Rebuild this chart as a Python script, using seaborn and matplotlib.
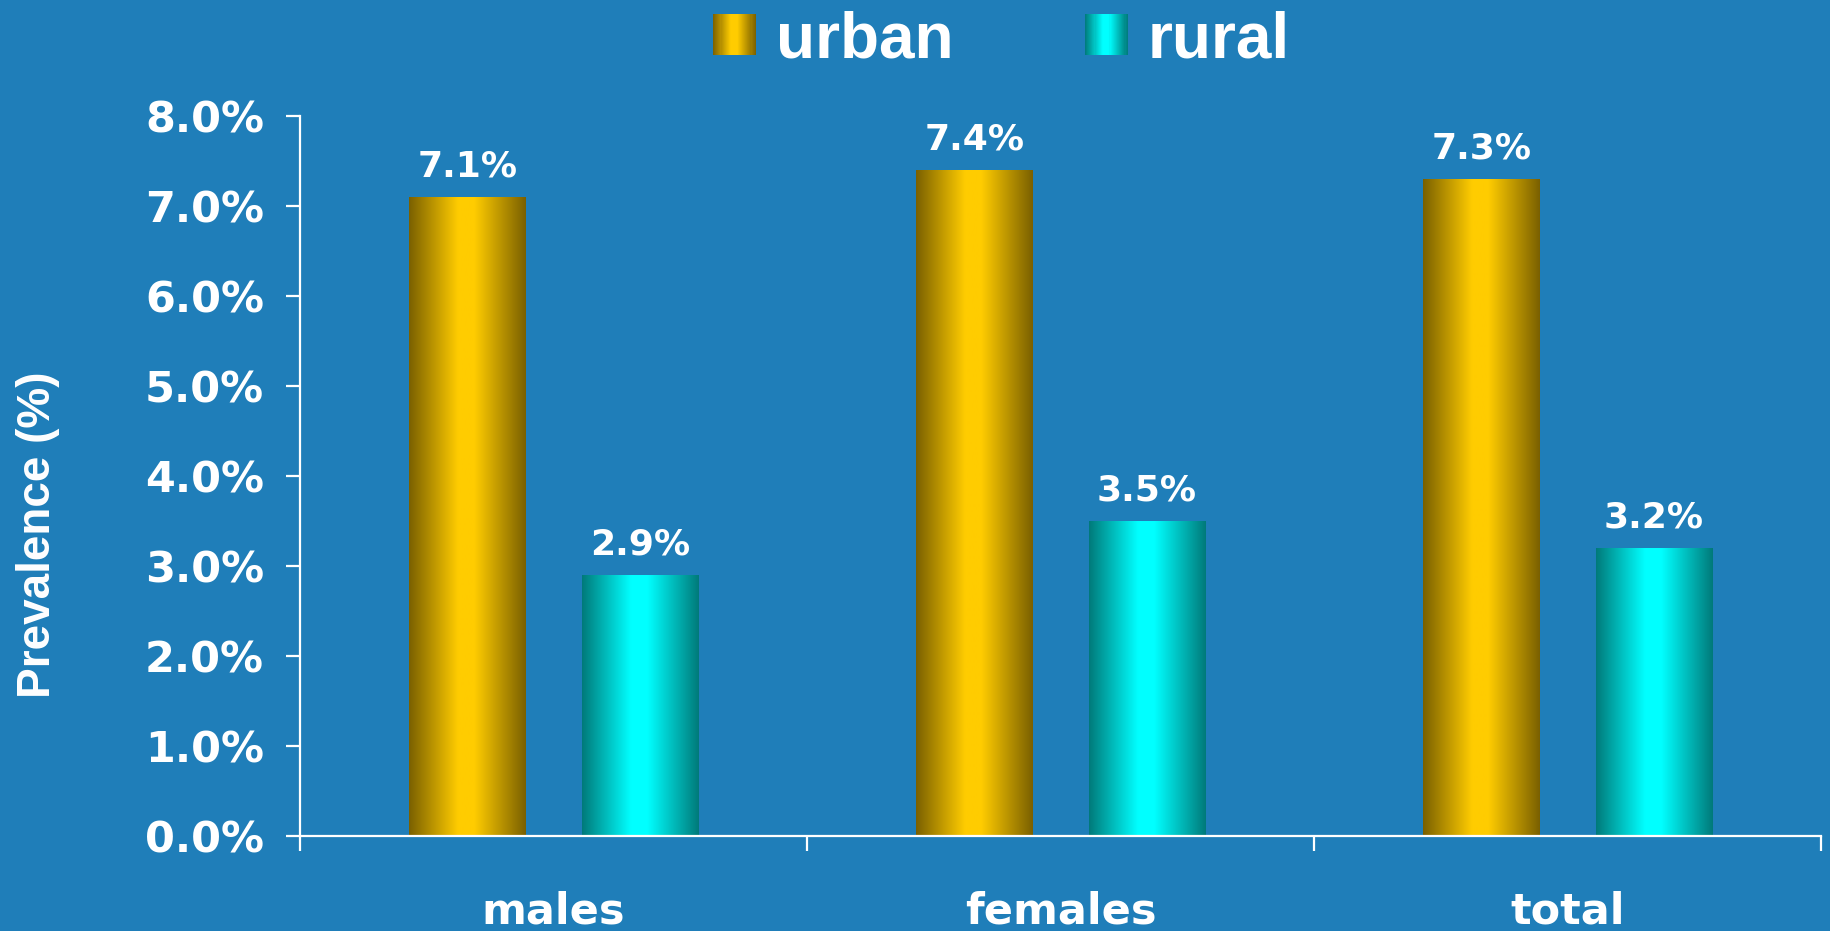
import numpy as np
import pandas as pd
import matplotlib
matplotlib.use("Agg")
import matplotlib.pyplot as plt
import seaborn as sns
from matplotlib.colors import LinearSegmentedColormap
from matplotlib.patches import Rectangle
from matplotlib.legend_handler import HandlerBase

# ---- data -------------------------------------------------------------
groups = ["males", "females", "total"]
settings = ["urban", "rural"]
urban = [7.1, 7.4, 7.3]
rural = [2.9, 3.5, 3.2]
y_ticks = [0.0, 1.0, 2.0, 3.0, 4.0, 5.0, 6.0, 7.0, 8.0]

# ---- style ------------------------------------------------------------
BG = "#1F7EB9"
SHADES = {"urban": ("#7A6000", "#FFCC00"), "rural": ("#007A7A", "#00FFFF")}


def cylinder_cmap(dark, bright):
    return LinearSegmentedColormap.from_list(
        "cyl", [(0.0, dark), (0.42, bright), (0.56, bright), (1.0, dark)])


CMAPS = {k: cylinder_cmap(*v) for k, v in SHADES.items()}

df = pd.DataFrame({
    "group": groups * 2,
    "setting": ["urban"] * len(groups) + ["rural"] * len(groups),
    "value": urban + rural,
})

sns.set_theme(style="ticks")
plt.rcParams["font.family"] = ["DejaVu Sans"]

W, H = 1830, 931
fig = plt.figure(figsize=(W / 100, H / 100), dpi=100, facecolor=BG)
ax = fig.add_axes([300 / W, 95 / H, 1521 / W, 720 / H])
ax.set_facecolor(BG)

sns.barplot(data=df, x="group", y="value", hue="setting", order=groups,
            hue_order=settings, palette={k: v[1] for k, v in SHADES.items()},
            width=0.68, gap=0.326, errorbar=None, legend=False, ax=ax)

# replace flat bars with a cylindrical shading
grad = np.linspace(0, 1, 256)[None, :]
for setting, container in zip(settings, ax.containers):
    for patch in container.patches:
        x0, w, h = patch.get_x(), patch.get_width(), patch.get_height()
        ax.imshow(grad, extent=[x0, x0 + w, 0, h], aspect="auto",
                  cmap=CMAPS[setting], zorder=patch.get_zorder(),
                  interpolation="bilinear")
        patch.set_visible(False)
        ax.annotate(f"{h:.1f}%", xy=(x0 + w / 2, h), xytext=(0, 15),
                    textcoords="offset points", ha="center", va="baseline",
                    color="white", fontsize=26, fontweight="bold")

ax.set_xlim(-0.5, 2.5)
ax.set_ylim(0, 8)

# axes, ticks
sns.despine(ax=ax)
for side in ("left", "bottom"):
    ax.spines[side].set_color("white")
    ax.spines[side].set_linewidth(1.6)

ax.set_yticks(y_ticks)
ax.set_yticklabels([f"{t:.1f}%" for t in y_ticks])
ax.tick_params(axis="y", length=10, width=1.6, color="white", pad=16,
               labelsize=31, labelcolor="white")
for lab in ax.get_yticklabels():
    lab.set_fontweight("bold")

ax.set_xticks(range(len(groups)))
ax.set_xticklabels(groups)
ax.set_xticks([i - 0.5 for i in range(len(groups) + 1)], minor=True)
ax.tick_params(axis="x", which="major", length=0, pad=39, labelsize=31,
               labelcolor="white")
ax.tick_params(axis="x", which="minor", length=11, width=1.6, color="white")
for lab in ax.get_xticklabels():
    lab.set_fontweight("bold")

ax.set_xlabel("")
ax.set_ylabel("")
fig.text(38 / W, 1 - 535 / H, "Prevalence (%)", rotation=90, ha="center",
         va="center", color="white", fontsize=33, fontweight="bold",
         family="Liberation Sans")


# ---- legend with shaded swatches ---------------------------------------
class Swatch:
    def __init__(self, cmap):
        self.cmap = cmap


class HandlerSwatch(HandlerBase):
    def create_artists(self, legend, orig_handle, xdescent, ydescent,
                       width, height, fontsize, trans):
        n = 40
        arts = []
        for i in range(n):
            c = orig_handle.cmap((i + 0.5) / n)
            r = Rectangle((-xdescent + i * width / n, -ydescent),
                          width / n * 1.05, height, facecolor=c,
                          edgecolor="none", transform=trans)
            arts.append(r)
        return arts


handles = [Swatch(CMAPS[s]) for s in settings]
fig.legend(handles, settings, handler_map={Swatch: HandlerSwatch()},
           loc="center left", bbox_to_anchor=(713 / W, 1 - 40 / H), ncol=2,
           frameon=False, borderpad=0, borderaxespad=0,
           handlelength=0.67, handleheight=0.62, handletextpad=0.32,
           columnspacing=2.05, labelcolor="white",
           prop={"family": "Liberation Sans", "weight": "bold", "size": 46})

fig.savefig("out.png", dpi=100, facecolor=BG)
